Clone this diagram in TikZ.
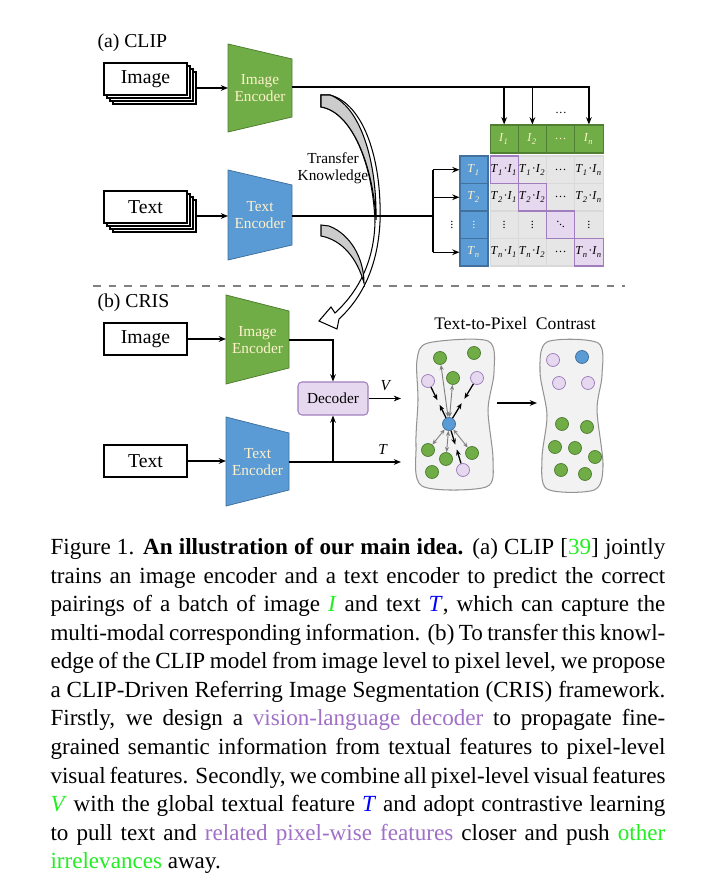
\documentclass[tikz,border=0pt]{standalone}
\usepackage{fontspec}
\setmainfont{Liberation Serif}
\usetikzlibrary{arrows.meta,calc}

\definecolor{encgreen}{HTML}{70AD47}
\definecolor{encgreendark}{HTML}{507E32}
\definecolor{encblue}{HTML}{5B9BD5}
\definecolor{encbluedark}{HTML}{41719C}
\definecolor{lilac}{HTML}{E6D8EE}
\definecolor{lilacdark}{HTML}{A07EBE}
\definecolor{cellgray}{HTML}{E7E6E6}
\definecolor{blobgray}{HTML}{F2F2F2}
\definecolor{cream}{HTML}{FFF2CC}
\definecolor{capgreen}{HTML}{22EE22}
\definecolor{capblue}{HTML}{0000FF}
\definecolor{cappurple}{HTML}{A070C8}

\newcommand\px{0.3855pt}
\newcommand\lblbig{\fontsize{7.6}{8.5}\selectfont}
\newcommand\lblenc{\fontsize{5.9}{6.6}\selectfont}
\newcommand\lblcell{\fontsize{4.7}{5}\selectfont}
\newcommand\lblcap{\fontsize{8.9}{11}\selectfont}
\newcommand\tvar[2]{\textit{#1}\textsubscript{\textit{#2}}}
\newcommand\capline[1]{\makebox[237pt][s]{#1}}
\newcommand\vdt{\raisebox{-0.4pt}{\vbox{\baselineskip=1.15pt\lineskiplimit=-5pt\hbox{.}\hbox{.}\hbox{.}}}}
\newcommand\ddt{.\kern-0.1pt\raisebox{-1pt}{.}\kern-0.1pt\raisebox{-2pt}{.}}
\newcommand\hdt{.\kern0.35pt.\kern0.35pt.}

\tikzset{
  stackbox/.style={draw, fill=white, line width=0.5pt, minimum width=83*\px, minimum height=32*\px, inner sep=0pt, font=\lblbig},
  enclabel/.style={align=center, font=\lblenc, text=cream, inner sep=0pt},
  greenenc/.style={fill=encgreen, draw=encgreendark, line width=0.3pt},
  blueenc/.style={fill=encblue, draw=encbluedark, line width=0.3pt},
  hdrcell/.style={draw=encgreendark, fill=encgreen, line width=0.4pt, minimum width=28.25*\px, minimum height=28*\px, inner sep=0pt, font=\lblcell, text=cream},
  rowcell/.style={draw=encbluedark, fill=encblue, line width=0.4pt, minimum width=28*\px, minimum height=27.5*\px, inner sep=0pt, font=\lblcell, text=cream},
  prodcell/.style={draw=gray!30, fill=cellgray, line width=0.4pt, minimum width=28.25*\px, minimum height=27.5*\px, inner sep=0pt, font=\lblcell},
  diagcell/.style={prodcell, draw=lilacdark, fill=lilac},
  decbox/.style={draw=lilacdark, fill=lilac, rounded corners=1.5pt, line width=0.4pt, minimum width=70*\px, minimum height=33*\px, inner sep=0pt, font=\lblenc},
  feat/.style={line width=0.7pt},
  gdot/.style={circle, draw=encgreendark, fill=encgreen, line width=0.3pt, minimum size=13*\px, inner sep=0pt},
  pdot/.style={gdot, draw=lilacdark, fill=lilac},
  bdot/.style={gdot, draw=encbluedark, fill=encblue},
  blob/.style={draw=gray!85, fill=blobgray, line width=0.4pt},
  pull/.style={-{Stealth[length=2.3pt,width=1.8pt]}, line width=0.5pt, shorten >=1pt},
  push/.style={{Stealth[length=2pt,width=1.6pt]}-{Stealth[length=2pt,width=1.6pt]}, gray, line width=0.35pt}
}

\begin{document}
\begin{tikzpicture}[x=\px, y=-\px, >={Stealth[length=2.8pt,width=2.2pt]}, line width=0.4pt]
\useasboundingbox[fill=white] (0,0) rectangle (717,876);

% (a) CLIP
\node[anchor=west, font=\lblbig, inner sep=0pt] (clipttl) at (97,43) {(a) CLIP};
\foreach \d in {9,6,3} {
  \node[stackbox] (imgstack\d) at (145.5+\d,79+\d) {};
  \node[stackbox] (txtstack\d) at (145.5+\d,207+\d) {};
}
\node[stackbox] (clipimg) at (145.5,79) {Image};
\node[stackbox] (cliptxt) at (145.5,207) {Text};

\draw[greenenc] (228,44) -- (292,59) -- (292,117) -- (228,132) -- cycle;
\node[enclabel] (clipienc) at (260,88) {Image\\Encoder};
\coordinate (clipienc-in) at (228,88);
\coordinate (clipienc-out) at (292,87);
\draw[blueenc] (228,170) -- (292,185) -- (292,245) -- (228,260) -- cycle;
\node[enclabel] (cliptenc) at (260,215) {Text\\Encoder};
\coordinate (cliptenc-in) at (228,216);
\coordinate (cliptenc-out) at (292,216);

\draw[->] (imgstack9.east) -- (clipienc-in);
\draw[->] (txtstack9.east) -- (cliptenc-in);

% similarity matrix
\foreach \i/\lab in {1/{\tvar{I}{1}},2/{\tvar{I}{2}},3/{\hdt},4/{\tvar{I}{n}}}
  \node[hdrcell] (hdr\i) at (475.9+28.25*\i,139) {\lab};
\foreach \j/\lab in {1/{\tvar{T}{1}},2/{\tvar{T}{2}},3/{\vdt},4/{\tvar{T}{n}}}
  \node[rowcell] (row\j) at (474,142.25+27.5*\j) {\lab};
\foreach \j/\tj in {1/1,2/2,4/n} {
  \foreach \i/\ii in {1/1,2/2,4/n}
    \node[prodcell] (c\j\i) at (hdr\i |- row\j) {\tvar{T}{\tj}·\tvar{I}{\ii}};
  \node[prodcell] (c\j3) at (hdr3 |- row\j) {\hdt};
}
\foreach \i/\sym in {1/\vdt,2/\vdt,3/\ddt,4/\vdt}
  \node[prodcell] (c3\i) at (hdr\i |- row3) {\sym};
\foreach \k/\lab in {1/{\tvar{T}{1}·\tvar{I}{1}},2/{\tvar{T}{2}·\tvar{I}{2}},3/{\ddt},4/{\tvar{T}{n}·\tvar{I}{n}}}
  \node[diagcell] (d\k) at (c\k\k) {\lab};
\node[font=\lblcell, inner sep=0pt] (idots) at (561,113) {\hdt};
\node[font=\lblcell, inner sep=0pt] (tdots) at (452,225) {\vdt};

% transfer knowledge
\draw[dashed, gray, line width=0.4pt] (93,286) -- (625,286);
\draw[fill=white, line width=0.4pt] (321,95) -- (330,95) .. controls (364,104) and (382,160) .. (380,222)
  .. controls (378,262) and (365,295) .. (339,319) -- (337,329) -- (319,321) -- (331,307) -- (335,313)
  .. controls (358,292) and (374,262) .. (375,222) .. controls (373,165) and (352,112) .. (321,107) -- cycle;
\draw[fill=gray!40, line width=0.4pt] (321,95) -- (330,95) .. controls (360,106) and (377,160) .. (376,220)
  .. controls (373,165) and (352,112) .. (321,107) -- cycle;
\draw[fill=gray!40, line width=0.4pt] (321,225) -- (329,226) .. controls (350,234) and (364,258) .. (364,283)
  .. controls (357,258) and (342,240) .. (321,236) -- cycle;
\node[font=\lblenc, align=center, inner sep=0pt] (transfer) at (333,168) {Transfer\\Knowledge};

\draw[feat,->] (clipienc-out) -| (hdr4.north);
\draw[feat,->] (hdr1.north |- clipienc-out) -- (hdr1.north);
\draw[feat,->] (hdr2.north |- clipienc-out) -- (hdr2.north);
\coordinate (split) at (433,216);
\draw[feat] (cliptenc-out) -- (split);
\draw[feat] (split |- row1.west) -- (split |- row4.west);
\foreach \j in {1,2,4}
  \draw[->] (split |- row\j.west) -- (row\j.west);

% (b) CRIS
\node[anchor=west, font=\lblbig, inner sep=0pt] (cristtl) at (97,303) {(b) CRIS};
\node[stackbox] (crisimg) at (145.5,339) {Image};
\node[stackbox] (cristxt) at (145.5,461) {Text};
\draw[greenenc] (226,295) -- (289,311) -- (289,368) -- (226,384) -- cycle;
\node[enclabel] (crisienc) at (257.5,340) {Image\\Encoder};
\coordinate (crisienc-in) at (226,339);
\coordinate (crisienc-out) at (289,340);
\draw[blueenc] (226,417) -- (289,433) -- (289,490) -- (226,506) -- cycle;
\node[enclabel] (cristenc) at (257.5,462) {Text\\Encoder};
\coordinate (cristenc-in) at (226,461);
\coordinate (cristenc-out) at (289,462);
\node[decbox] (dec) at (333,398.5) {Decoder};
\coordinate (vend) at (401,398.5);
\coordinate (tend) at (401,462);

\draw[->] (crisimg) -- (crisienc-in);
\draw[->] (cristxt) -- (cristenc-in);
\draw[->] (crisienc-out) -| (dec.north);
\draw[->] (cristenc-out) -- (tend);
\draw[->] (dec.south |- cristenc-out) -- (dec.south);
\draw[->] (dec.east) -- (vend);
\node[font=\lblenc, inner sep=0pt] (vlab) at (386,386) {\textit{V}};
\node[font=\lblenc, inner sep=0pt] (tlab) at (383,449) {\textit{T}};

% text-to-pixel contrast
\node[font=\fontsize{6.8}{7}\selectfont, inner sep=0pt] (contrast) at (515,323) {Text-to-Pixel\ \ Contrast};
\draw[blob] plot[smooth cycle] coordinates {(428,343) (488,341) (494,372) (488,410)
  (493,460) (486,487) (422,486) (416,445) (418,400) (417,360)};
\draw[blob] plot[smooth cycle] coordinates {(547,342) (598,343) (602,375) (597,410)
  (603,466) (594,490) (547,489) (542,458) (547,415) (540,372)};
\coordinate (mid-l) at (497,403);
\coordinate (mid-r) at (537,403);
\draw[->, line width=0.5pt] (mid-l) -- (mid-r);

\foreach \n/\x/\y in {1/440/358,2/474/353,3/453/378,4/428/450,5/446/459,6/472/453,7/432/472}
  \node[gdot] (lg\n) at (\x,\y) {};
\foreach \n/\x/\y in {1/428/381,2/477/378,3/463/470}
  \node[pdot] (lp\n) at (\x,\y) {};
\node[bdot] (lb) at (449,424) {};
\foreach \n in {1,3,4,5,6}
  \draw[push] (lb) -- (lg\n);
\foreach \n in {1,2,3} {
  \draw[pull] (lp\n) -- ($(lp\n)!0.5!(lb)$);
  \draw[pull] (lb) -- ($(lp\n)!0.5!(lb)$);
}

\foreach \n/\x/\y in {1/562/424,2/587/427,3/555/447,4/575/448,5/595/457,6/561/470,7/585/474}
  \node[gdot] (rg\n) at (\x,\y) {};
\foreach \n/\x/\y in {1/553/360,2/559/383,3/588/383}
  \node[pdot] (rp\n) at (\x,\y) {};
\node[bdot] (rb) at (582,357) {};

% caption
\node[anchor=north west, align=left, inner sep=0pt, font=\lblcap] (caption) at (50,538) {%
\capline{Figure 1. \textbf{An illustration of our main idea.} (a) CLIP [\textcolor{capgreen}{39}] jointly}\\
\capline{trains an image encoder and a text encoder to predict the correct}\\
\capline{pairings of a batch of image \textcolor{capgreen}{\textit{I}} and text \textcolor{capblue}{\textit{T}}, which can capture the}\\
\capline{multi-modal corresponding information. (b) To transfer this knowl-}\\
\capline{edge of the CLIP model from image level to pixel level, we propose}\\
\capline{a CLIP-Driven Referring Image Segmentation (CRIS) framework.}\\
\capline{Firstly, we design a \textcolor{cappurple}{vision-language decoder} to propagate fine-}\\
\capline{grained semantic information from textual features to pixel-level}\\
\capline{visual features. Secondly, we combine all pixel-level visual features}\\
\capline{\textcolor{capgreen}{\textit{V}} with the global textual feature \textcolor{capblue}{\textit{T}} and adopt contrastive learning}\\
\capline{to pull text and \textcolor{cappurple}{related pixel-wise features} closer and push \textcolor{capgreen}{other}}\\
\textcolor{capgreen}{irrelevances} away.};

\end{tikzpicture}
\end{document}
